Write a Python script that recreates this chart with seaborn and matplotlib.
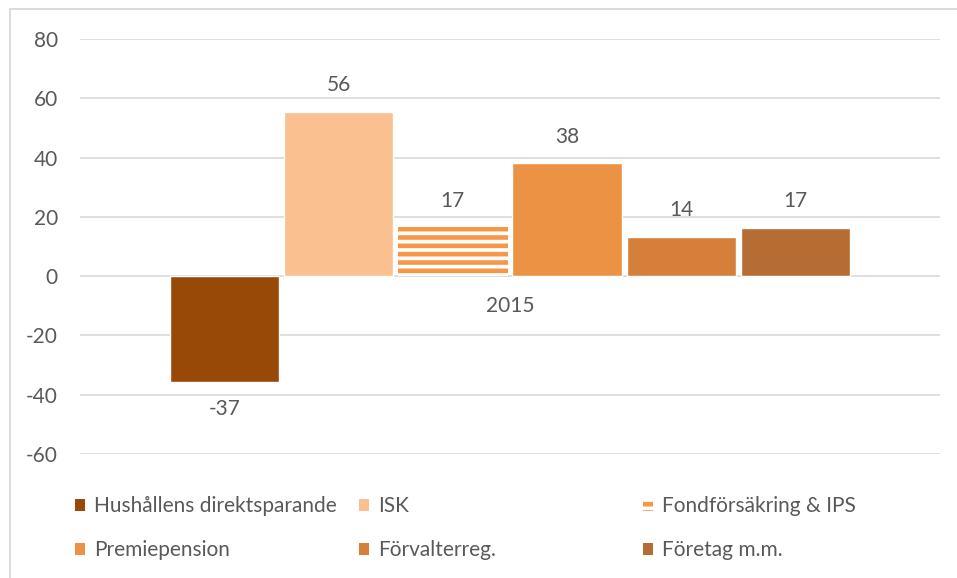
import matplotlib.pyplot as plt
import matplotlib as mpl
from matplotlib.patches import Patch, Rectangle
import pandas as pd
import seaborn as sns

# data
series = ['Hushållens direktsparande', 'ISK', 'Fondförsäkring & IPS',
          'Premiepension', 'Förvalterreg.', 'Företag m.m.']
values = [-35.8, 55.4, 16.5, 38.1, 13.2, 16.2]
labels = ['-37', '56', '17', '38', '14', '17']
year = ['2015'] * len(series)
colors = ['#984807', '#FAC090', '#F79646', '#EB9245', '#D57F3B', '#B56D34']
striped = 'Fondförsäkring & IPS'

df = pd.DataFrame({'år': year, 'serie': series, 'värde': values})

sns.set_style('white')
plt.rcParams['font.family'] = ['Lato', 'DejaVu Sans']
mpl.rcParams['axes.unicode_minus'] = False
mpl.rcParams['hatch.linewidth'] = 3.3
txt = '#595959'
grid = '#D9D9D9'
fs = 15

fig = plt.figure(figsize=(9.57, 5.78), dpi=100)
ax = fig.add_axes([0.0836, 0.2145, 0.8986, 0.718])

sns.barplot(data=df, x='år', y='värde', hue='serie', hue_order=series,
            palette=colors, saturation=1, width=0.797, gap=0.04,
            legend=False, ax=ax)

# randig stapel
for cont, name, col, lab in zip(ax.containers, series, colors, labels):
    for bar in cont:
        if name == striped:
            bar.set_facecolor('white')
            bar.set_edgecolor(col)
            bar.set_hatch('--')
            bar.set_linewidth(0)
    ax.bar_label(cont, labels=[lab], padding=12, fontsize=fs, color=txt)

ax.set_xlim(-0.5, 0.5)
ax.set_ylim(-60, 80)
ax.set_yticks(range(-60, 81, 20))
ax.set_xlabel('')
ax.set_ylabel('')
ax.yaxis.grid(True, color=grid, lw=1.2)
ax.set_axisbelow(True)
for s in ax.spines.values():
    s.set_visible(False)
ax.spines['bottom'].set_position(('data', 0))
ax.tick_params(axis='y', length=0, pad=16, labelsize=fs, labelcolor=txt)
ax.tick_params(axis='x', length=0, pad=14, labelsize=fs, labelcolor=txt)

# legend: 3 kolumner, 2 rader
col_x = [75 / 957, 359 / 957, 643 / 957]
row_y = [1 - 506 / 578, 1 - 550 / 578]
for i, (name, col) in enumerate(zip(series, colors)):
    if name == striped:
        h = Patch(facecolor='white', edgecolor=col, hatch='--', lw=0)
    else:
        h = Patch(facecolor=col, lw=0)
    fig.legend([h], [name], loc='center left',
               bbox_to_anchor=(col_x[i % 3], row_y[i // 3]),
               frameon=False, borderpad=0, borderaxespad=0,
               handlelength=0.5, handleheight=0.5, handletextpad=0.4,
               fontsize=fs, labelcolor=txt)

# ram runt diagrammet
fig.add_artist(Rectangle((10 / 957, -0.1), 1, (578 - 9) / 578 + 0.1,
                         transform=fig.transFigure, fill=False,
                         edgecolor=grid, lw=1.3))

fig.savefig('out.png', dpi=100)
